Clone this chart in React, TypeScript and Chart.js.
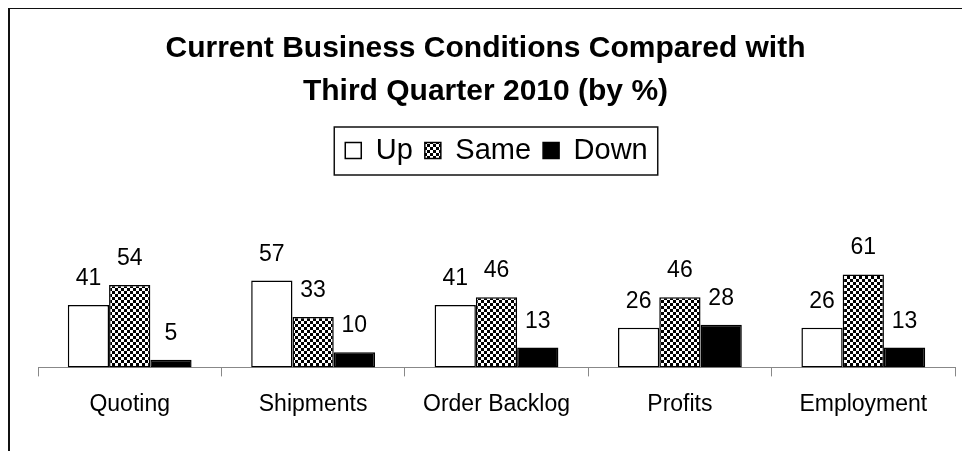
import React, { useEffect, useRef } from 'react';
import { Chart, registerables } from 'chart.js';

Chart.register(...registerables);

const categories = ['Quoting', 'Shipments', 'Order Backlog', 'Profits', 'Employment'];
const seriesNames = ['Up', 'Same', 'Down'];
const upValues = [41, 57, 41, 26, 26];
const sameValues = [54, 33, 46, 46, 61];
const downValues = [5, 10, 13, 28, 13];
const titleLines = ['Current Business Conditions Compared with', 'Third Quarter 2010 (by %)'];

const FONT = 'Arial, "Liberation Sans", sans-serif';

function makeChecker(ctx: CanvasRenderingContext2D, cell: number) {
  const c = document.createElement('canvas');
  c.width = cell * 2;
  c.height = cell * 2;
  const g = c.getContext('2d')!;
  g.fillStyle = '#fff';
  g.fillRect(0, 0, cell * 2, cell * 2);
  g.fillStyle = '#000';
  g.fillRect(0, 0, cell, cell);
  g.fillRect(cell, cell, cell, cell);
  return ctx.createPattern(c, 'repeat')!;
}

const titlePlugin = {
  id: 'customTitle',
  afterDraw(chart: any) {
    const ctx = chart.ctx;
    ctx.save();
    ctx.font = `bold 30px ${FONT}`;
    ctx.fillStyle = '#000';
    ctx.textAlign = 'center';
    ctx.textBaseline = 'alphabetic';
    const cx = chart.width / 2 - 4.5;
    ctx.fillText(titleLines[0], cx, 48);
    ctx.fillText(titleLines[1], cx, 91);
    ctx.restore();
  },
};

const legendFramePlugin = {
  id: 'legendFrame',
  beforeInit(chart: any) {
    const legend = chart.legend;
    if (!legend) return;
    const origFit = legend.fit;
    legend.fit = function fit() {
      origFit.bind(legend)();
      this.height += 40;
    };
  },
  afterDraw(chart: any) {
    const boxes = chart.legend?.legendHitBoxes;
    if (!boxes || !boxes.length) return;
    let l = Infinity, r = -Infinity, t = Infinity, b = -Infinity;
    for (const h of boxes) {
      l = Math.min(l, h.left);
      r = Math.max(r, h.left + h.width);
      t = Math.min(t, h.top);
      b = Math.max(b, h.top + h.height);
    }
    const ctx = chart.ctx;
    ctx.save();
    ctx.strokeStyle = '#111';
    ctx.lineWidth = 1.5;
    ctx.strokeRect(l - 11, t - 9, r - l + 21, b - t + 19);
    ctx.restore();
  },
};

const valueLabelPlugin = {
  id: 'valueLabels',
  afterDatasetsDraw(chart: any) {
    const ctx = chart.ctx;
    ctx.save();
    ctx.font = `23px ${FONT}`;
    ctx.fillStyle = '#000';
    ctx.textAlign = 'center';
    ctx.textBaseline = 'alphabetic';
    chart.data.datasets.forEach((ds: any, i: number) => {
      chart.getDatasetMeta(i).data.forEach((bar: any, j: number) => {
        ctx.fillText(String(ds.data[j]), bar.x, bar.y - 20);
      });
    });
    ctx.restore();
  },
};

export default function App() {
  const canvasRef = useRef<HTMLCanvasElement | null>(null);

  useEffect(() => {
    document.documentElement.style.overflow = 'hidden';
    document.body.style.overflow = 'hidden';
    const canvas = canvasRef.current!;
    const ctx = canvas.getContext('2d')!;
    const checker = makeChecker(ctx, 3);

    const chart = new Chart(ctx, {
      type: 'bar',
      data: {
        labels: categories,
        datasets: [
          { label: seriesNames[0], data: upValues, backgroundColor: '#fff', borderColor: '#000', borderWidth: 1.5, borderSkipped: false },
          { label: seriesNames[1], data: sameValues, backgroundColor: checker, borderColor: '#000', borderWidth: 1.5, borderSkipped: false },
          { label: seriesNames[2], data: downValues, backgroundColor: '#000', borderColor: '#000', borderWidth: 1.5, borderSkipped: false },
        ],
      },
      options: {
        responsive: false,
        animation: false,
        events: [],
        layout: { padding: { left: 28, right: 15, top: 115, bottom: 19 } },
        datasets: { bar: { categoryPercentage: 0.675, barPercentage: 1 } },
        plugins: {
          title: { display: false },
          tooltip: { enabled: false },
          legend: {
            display: true,
            position: 'top',
            labels: {
              color: '#000',
              font: { family: FONT, size: 29 },
              boxWidth: 16,
              boxHeight: 16,
              padding: 12,
            },
          },
        },
        scales: {
          x: {
            grid: {
              display: true,
              drawOnChartArea: false,
              drawTicks: true,
              tickLength: 9,
              color: '#888',
              lineWidth: 1,
            },
            border: { display: true, color: '#888', width: 1 },
            ticks: { color: '#000', font: { family: FONT, size: 23 }, padding: 14, maxRotation: 0, autoSkip: false },
          },
          y: { display: false, min: 0, max: 100 },
        },
      },
      plugins: [titlePlugin, legendFramePlugin, valueLabelPlugin],
    } as any);

    return () => chart.destroy();
  }, []);

  return (
    <div
      style={{
        width: 962,
        height: 444,
        marginTop: -1,
        borderTop: '2px solid #111',
        borderLeft: '2px solid #111',
        boxSizing: 'border-box',
        background: '#fff',
      }}
    >
      <canvas ref={canvasRef} width={960} height={442} style={{ display: 'block' }} />
    </div>
  );
}
